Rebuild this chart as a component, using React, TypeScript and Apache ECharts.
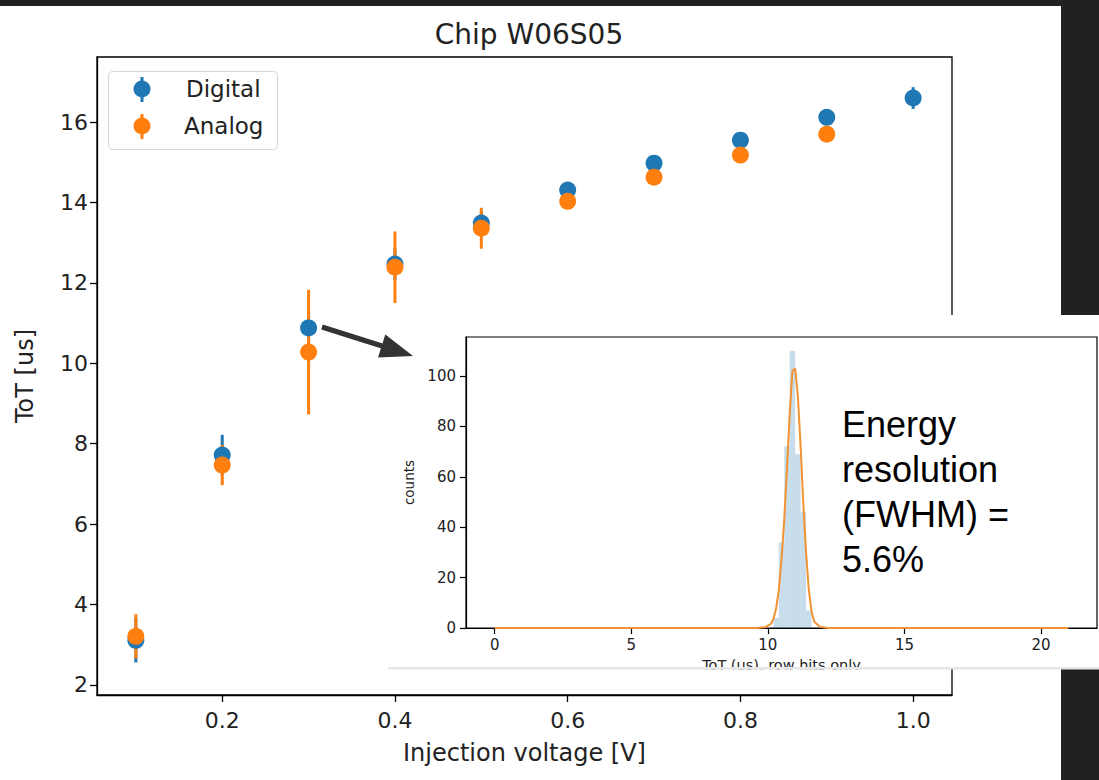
import React, { useEffect, useRef } from 'react';
import * as echarts from 'echarts';

// ---- main chart data ----
const digitalVoltage = [0.1, 0.2, 0.3, 0.4, 0.5, 0.6, 0.7, 0.8, 0.9, 1.0];
const digitalToT = [3.11, 7.72, 10.88, 12.47, 13.49, 14.31, 14.98, 15.55, 16.12, 16.6];
const digitalErr = [0.55, 0.5, 0.4, 0.4, 0.3, 0.15, 0.15, 0.15, 0.15, 0.27];
const analogVoltage = [0.1, 0.2, 0.3, 0.4, 0.5, 0.6, 0.7, 0.8, 0.9];
const analogToT = [3.21, 7.47, 10.28, 12.39, 13.36, 14.03, 14.63, 15.18, 15.7];
const analogErr = [0.55, 0.5, 1.55, 0.89, 0.51, 0.15, 0.15, 0.15, 0.15];
const mainXTicks = [0.2, 0.4, 0.6, 0.8, 1.0];
const mainYTicks = [2, 4, 6, 8, 10, 12, 14, 16];

// ---- inset histogram data ----
const binStart = [10.2, 10.4, 10.6, 10.8, 11.0, 11.2, 11.4];
const binEnd = [10.4, 10.6, 10.8, 11.0, 11.2, 11.4, 11.6];
const binCounts = [4, 34, 72, 110, 69, 46, 7];
const fitX = [0, 9.6, 9.9, 10.1, 10.2, 10.3, 10.4, 10.5, 10.6, 10.7, 10.8, 10.9, 11.0, 11.1, 11.2, 11.3, 11.4, 11.5, 11.6, 11.7, 11.9, 12.2, 21];
const fitY = [0, 0, 0.3, 1.5, 3.5, 7.5, 15, 27, 43, 63, 85, 102, 103, 92, 72, 49, 30, 15, 6.5, 2.5, 0.5, 0, 0];
const insetXTicks = [0, 5, 10, 15, 20];
const insetYTicks = [0, 20, 40, 60, 80, 100];

const BLUE = '#1f77b4';
const ORANGE = '#ff7f0e';
const MPL = 'DejaVu Sans';
const TXT = '#222222';

const errRender = (color: string) => (params: any, api: any) => {
  const x = api.value(0);
  const a = api.coord([x, api.value(1)]);
  const b = api.coord([x, api.value(2)]);
  return {
    type: 'line',
    shape: { x1: a[0], y1: a[1], x2: b[0], y2: b[1] },
    style: { stroke: color, lineWidth: 3 },
  };
};

const histRender = (params: any, api: any) => {
  const p0 = api.coord([api.value(0), api.value(2)]);
  const p1 = api.coord([api.value(1), 0]);
  return {
    type: 'rect',
    shape: { x: p0[0], y: p0[1], width: p1[0] - p0[0], height: p1[1] - p0[1] },
    style: { fill: 'rgba(31,119,180,0.25)' },
  };
};

export default function App() {
  const ref = useRef<HTMLDivElement>(null);
  useEffect(() => {
    const chart = echarts.init(ref.current!, null, { renderer: 'svg' });
    const axisLineStyle = { color: '#000', width: 1.3 };
    const insetLine = { color: '#000', width: 1.2 };
    const option: any = {
      animation: false,
      backgroundColor: '#212121',
      title: {
        text: 'Chip W06S05',
        left: 524,
        top: 15,
        textAlign: 'center',
        textStyle: { fontFamily: MPL, fontSize: 28, fontWeight: 'normal', color: TXT },
      },
      grid: [
        { left: 97, top: 57, width: 855, height: 638, show: true, borderColor: '#000', borderWidth: 1.3, z: 0 },
        { left: 466, top: 337, width: 631, height: 291, show: true, borderColor: '#000', borderWidth: 1.2, z: 6 },
      ],
      xAxis: [
        {
          gridIndex: 0, type: 'value', min: 0.055, max: 1.045,
          axisLine: { show: true, onZero: false, lineStyle: axisLineStyle },
          axisTick: { show: true, length: 7, customValues: mainXTicks, lineStyle: axisLineStyle },
          axisLabel: { customValues: mainXTicks, formatter: (v: number) => v.toFixed(1), margin: 14, fontSize: 22, color: TXT, fontFamily: MPL },
          splitLine: { show: false },
          name: 'Injection voltage [V]', nameLocation: 'middle', nameGap: 46,
          nameTextStyle: { fontSize: 24, color: TXT, fontFamily: MPL },
        },
        {
          gridIndex: 1, type: 'value', min: -1.05, max: 22.05, z: 6,
          axisLine: { show: true, onZero: false, lineStyle: insetLine },
          axisTick: { show: true, length: 6, customValues: insetXTicks, lineStyle: insetLine },
          axisLabel: { customValues: insetXTicks, margin: 9, fontSize: 15, color: TXT, fontFamily: MPL },
          splitLine: { show: false },
          name: 'ToT (us), row hits only', nameLocation: 'middle', nameGap: 29,
          nameTextStyle: { fontSize: 14.5, color: TXT, fontFamily: MPL },
        },
      ],
      yAxis: [
        {
          gridIndex: 0, type: 'value', min: 1.75, max: 17.62,
          axisLine: { show: true, onZero: false, lineStyle: axisLineStyle },
          axisTick: { show: true, length: 7, customValues: mainYTicks, lineStyle: axisLineStyle },
          axisLabel: { customValues: mainYTicks, margin: 9, fontSize: 22, color: TXT, fontFamily: MPL },
          splitLine: { show: false },
          name: 'ToT [us]', nameLocation: 'middle', nameGap: 60,
          nameTextStyle: { fontSize: 24, color: TXT, fontFamily: MPL },
        },
        {
          gridIndex: 1, type: 'value', min: 0, max: 115.5, z: 6,
          axisLine: { show: true, onZero: false, lineStyle: insetLine },
          axisTick: { show: true, length: 6, customValues: insetYTicks, lineStyle: insetLine },
          axisLabel: { customValues: insetYTicks, margin: 10, fontSize: 15, color: TXT, fontFamily: MPL },
          splitLine: { show: false },
          name: 'counts', nameLocation: 'middle', nameGap: 44,
          nameTextStyle: { fontSize: 13.5, color: TXT, fontFamily: MPL },
        },
      ],
      series: [
        {
          name: 'Digital error', type: 'custom', xAxisIndex: 0, yAxisIndex: 0, z: 2,
          renderItem: errRender(BLUE), encode: { x: 0, y: [1, 2] },
          data: digitalVoltage.map((x, i) => [x, digitalToT[i] - digitalErr[i], digitalToT[i] + digitalErr[i]]),
        },
        {
          name: 'Analog error', type: 'custom', xAxisIndex: 0, yAxisIndex: 0, z: 2,
          renderItem: errRender(ORANGE), encode: { x: 0, y: [1, 2] },
          data: analogVoltage.map((x, i) => [x, analogToT[i] - analogErr[i], analogToT[i] + analogErr[i]]),
        },
        {
          name: 'Digital', type: 'scatter', xAxisIndex: 0, yAxisIndex: 0, z: 3,
          symbolSize: 17, itemStyle: { color: BLUE, opacity: 1 },
          data: digitalVoltage.map((x, i) => [x, digitalToT[i]]),
        },
        {
          name: 'Analog', type: 'scatter', xAxisIndex: 0, yAxisIndex: 0, z: 4,
          symbolSize: 17, itemStyle: { color: ORANGE, opacity: 1 },
          data: analogVoltage.map((x, i) => [x, analogToT[i]]),
        },
        {
          name: 'Histogram', type: 'custom', xAxisIndex: 1, yAxisIndex: 1, z: 7,
          renderItem: histRender, encode: { x: [0, 1], y: 2 },
          data: binStart.map((s, i) => [s, binEnd[i], binCounts[i]]),
        },
        {
          name: 'Fit', type: 'line', xAxisIndex: 1, yAxisIndex: 1, z: 8,
          showSymbol: false, symbol: 'none',
          lineStyle: { color: '#f39232', width: 2 },
          data: fitX.map((x, i) => [x, fitY[i]]),
        },
      ],
      graphic: [
        // page background (white slide area)
        { type: 'rect', z: -10, shape: { x: 0, y: 6, width: 1061, height: 774 }, style: { fill: '#ffffff' } },
        // main legend
        {
          type: 'group', z: 5, children: [
            { type: 'rect', shape: { x: 108.5, y: 71.5, width: 169, height: 78, r: 4 }, style: { fill: '#fff', stroke: '#d6d6d6', lineWidth: 1 } },
            { type: 'line', shape: { x1: 142, y1: 77, x2: 142, y2: 102 }, style: { stroke: BLUE, lineWidth: 3 } },
            { type: 'circle', shape: { cx: 142, cy: 89, r: 8.5 }, style: { fill: BLUE } },
            { type: 'text', x: 186, y: 89, style: { text: 'Digital', fontFamily: MPL, fontSize: 23, fill: TXT, verticalAlign: 'middle' } },
            { type: 'line', shape: { x1: 142, y1: 114, x2: 142, y2: 139 }, style: { stroke: ORANGE, lineWidth: 3 } },
            { type: 'circle', shape: { cx: 142, cy: 126, r: 8.5 }, style: { fill: ORANGE } },
            { type: 'text', x: 184, y: 126, style: { text: 'Analog', fontFamily: MPL, fontSize: 23, fill: TXT, verticalAlign: 'middle' } },
          ],
        },
        // inset image background
        { type: 'rect', z: 5, shape: { x: 388, y: 315, width: 711, height: 353 }, style: { fill: '#ffffff' } },
        // inset legend
        {
          type: 'group', z: 9, children: [
            { type: 'rect', shape: { x: 473.5, y: 345.5, width: 302, height: 49, r: 3 }, style: { fill: '#fff', stroke: '#d9d9d9', lineWidth: 1 } },
            {
              type: 'text', x: 520, y: 358,
              style: {
                text: '{n|Amp=104.85, }{i|μ}{n|=10.906, }{i|σ}{n|=0.259}',
                verticalAlign: 'middle',
                rich: {
                  n: { fontFamily: MPL, fontSize: 14.4, fill: TXT },
                  i: { fontFamily: MPL, fontSize: 14.4, fill: TXT, fontStyle: 'italic' },
                },
              },
            },
            { type: 'text', x: 520, y: 381, style: { text: 'N = 342', fontFamily: MPL, fontSize: 14.4, fill: TXT, verticalAlign: 'middle' } },
          ],
        },
        // annotation text
        {
          type: 'text', z: 9, x: 842, y: 401.5,
          style: {
            text: 'Energy\nresolution\n(FWHM) =\n5.6%',
            fontFamily: 'Liberation Sans', fontSize: 36, lineHeight: 45, fill: '#000', verticalAlign: 'top',
          },
        },
        // cut edge of pasted inset
        { type: 'rect', z: 10, shape: { x: 388, y: 669.5, width: 562, height: 24.5 }, style: { fill: '#ffffff' } },
        { type: 'rect', z: 10, shape: { x: 388, y: 667, width: 711, height: 2.5 }, style: { fill: '#e6e6e6' } },
        // arrow
        { type: 'line', z: 11, shape: { x1: 322, y1: 327, x2: 382, y2: 346 }, style: { stroke: '#333', lineWidth: 5 } },
        { type: 'polygon', z: 11, shape: { points: [[413, 356], [378, 357.4], [385.3, 334.6]] }, style: { fill: '#333' } },
      ],
    };
    chart.setOption(option);
    return () => chart.dispose();
  }, []);
  return <div ref={ref} style={{ position: 'absolute', left: 0, top: 0, width: 1099, height: 780 }} />;
}
